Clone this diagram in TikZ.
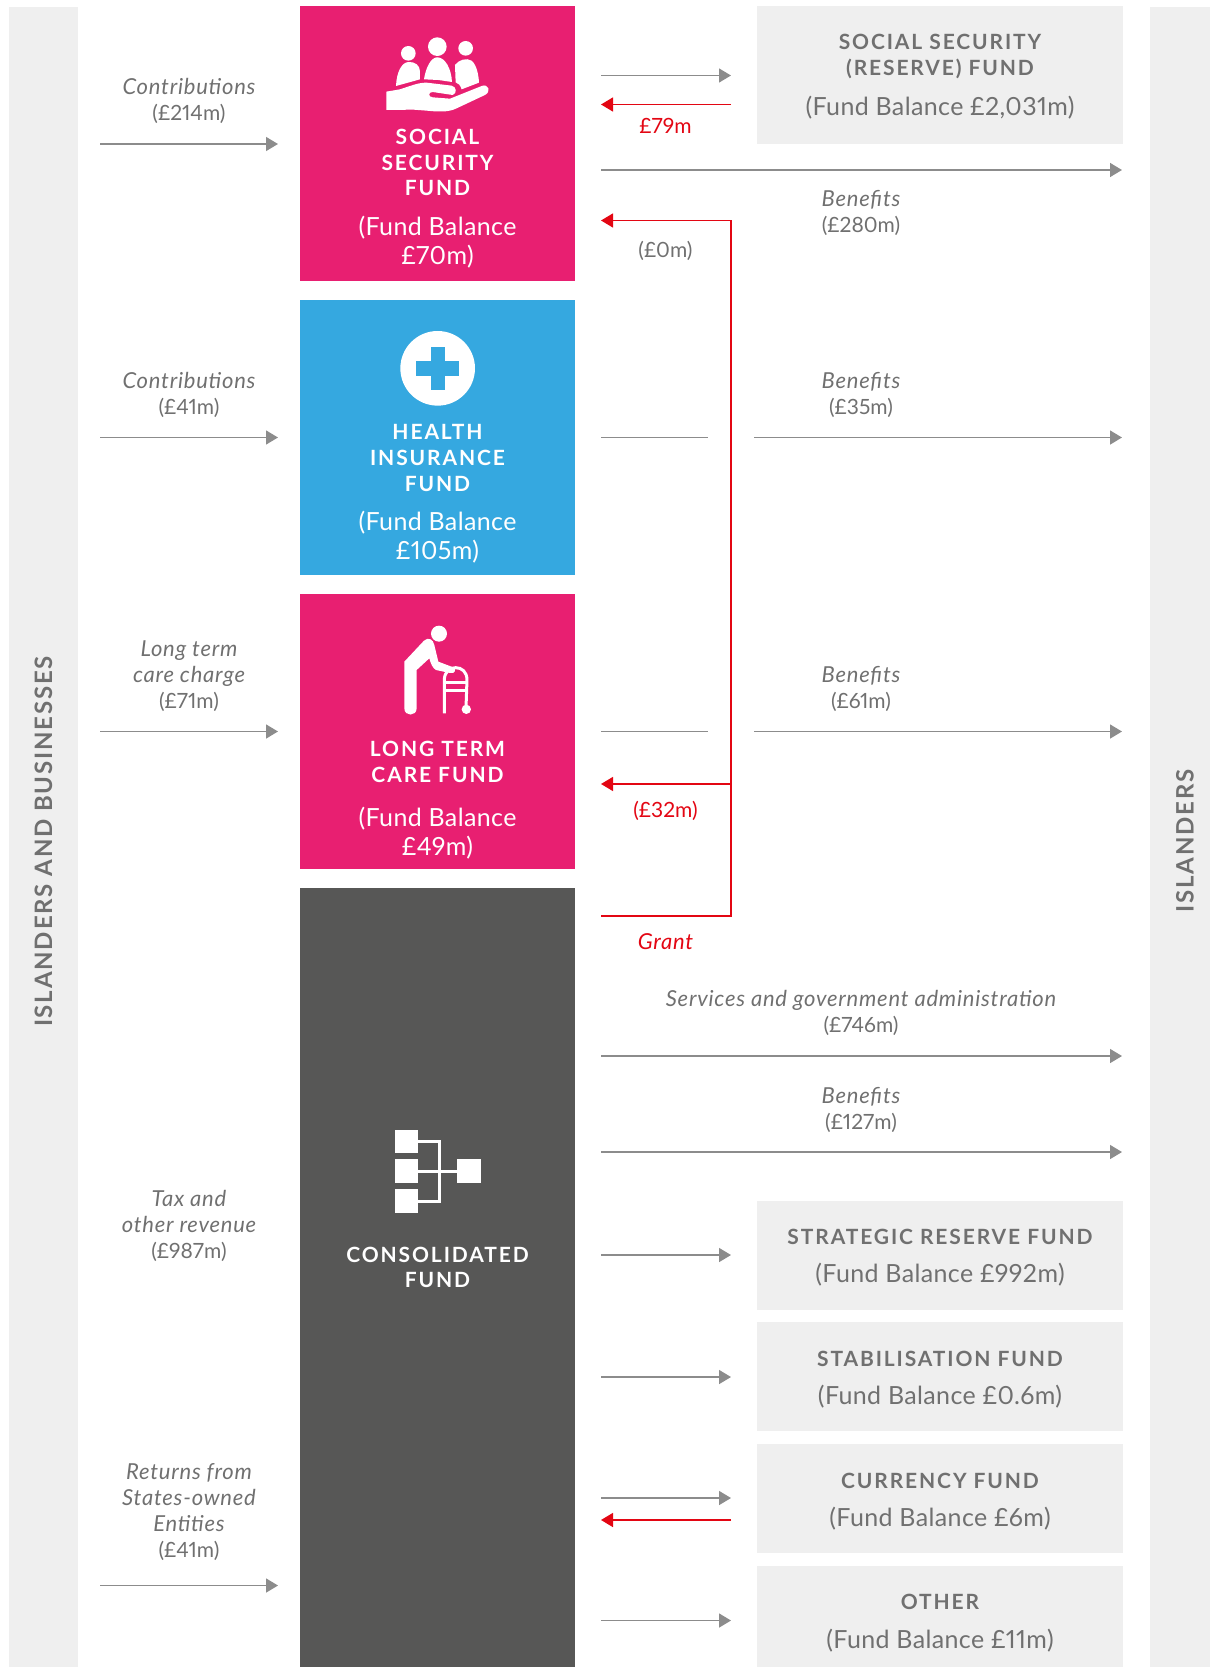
\documentclass[tikz,border=0pt]{standalone}
\usepackage{fontspec}
\setmainfont[Numbers=Proportional]{Lato}
\newfontfamily\spacedfont[LetterSpace=9]{Lato}
\newfontfamily\sidefont[LetterSpace=7.5]{Lato}
\newfontfamily\balfont[LetterSpace=1.5,Numbers=Proportional]{Lato}
\newfontfamily\flowfont[LetterSpace=3.5]{Lato}
\newcommand{\flowit}[1]{{\fontsize{22}{26}\flowfont\itshape #1}}
\usetikzlibrary{arrows.meta}
\definecolor{pinkfund}{HTML}{E81F71}
\definecolor{bluefund}{HTML}{35A8E0}
\definecolor{darkfund}{HTML}{575756}
\definecolor{panelgrey}{HTML}{EFEFEF}
\definecolor{textgrey}{HTML}{707070}
\definecolor{flowgrey}{HTML}{8C8C8C}
\definecolor{grantred}{HTML}{E30613}
\begin{document}
\begin{tikzpicture}[x=1pt,y=-1pt,
  panel/.style={anchor=north west,inner sep=0,outer sep=0,fill=panelgrey,minimum width=#1},
  fundbox/.style={anchor=north west,inner sep=0,outer sep=0,minimum width=275pt},
  flow/.style={draw=flowgrey,line width=1.5pt,-{Triangle[length=12pt,width=14pt]}},
  flowline/.style={draw=flowgrey,line width=1.5pt},
  grant/.style={draw=grantred,line width=1.5pt},
  grantflow/.style={grant,-{Triangle[length=12pt,width=14pt]}},
  fundtitle/.style={align=center,inner sep=0,text=white,font=\fontsize{21}{25.7}\spacedfont\bfseries},
  fundbal/.style={align=center,inner sep=0,text=white,font=\fontsize{25}{29}\balfont},
  paneltitle/.style={align=center,inner sep=0,text=textgrey,font=\fontsize{21}{26}\spacedfont\bfseries},
  panelbal/.style={align=center,inner sep=0,text=textgrey,font=\fontsize{25}{26}\balfont},
  flowtext/.style={align=center,inner sep=0,text=textgrey,font=\fontsize{21}{26}\selectfont},
  sidetext/.style={rotate=90,inner sep=0,text=textgrey,font=\fontsize{24}{26}\sidefont\bfseries}]
\useasboundingbox (0,0) rectangle (1210,1667);
\node[panel=69pt,minimum height=1660pt] (leftside) at (9,7) {};
\node[panel=60pt,minimum height=1660pt] (rightside) at (1150,7) {};
\node[sidetext] (leftsidetext) at (43.5,841.5) {ISLANDERS AND BUSINESSES};
\node[sidetext] (rightsidetext) at (1185,841) {ISLANDERS};
\node[fundbox,fill=pinkfund,minimum height=275pt] (ssf) at (300,6) {};
\node[fundbox,fill=bluefund,minimum height=275pt] (hif) at (300,300) {};
\node[fundbox,fill=pinkfund,minimum height=275pt] (ltc) at (300,594) {};
\node[fundbox,fill=darkfund,minimum height=779pt] (cf) at (300,888) {};
\node[fundtitle] (ssftitle) at (437.5,162.5) {SOCIAL\\SECURITY\\FUND};
\node[fundbal] (ssfbal) at (437.5,242) {(Fund Balance\\£70m)};
\node[fundtitle] (hiftitle) at (437.5,458) {HEALTH\\INSURANCE\\FUND};
\node[fundbal] (hifbal) at (437.5,537) {(Fund Balance\\£105m)};
\node[fundtitle] (ltctitle) at (437.5,762) {LONG TERM\\CARE FUND};
\node[fundbal] (ltcbal) at (437.5,833) {(Fund Balance\\£49m)};
\node[fundtitle] (cftitle) at (437.5,1267.5) {CONSOLIDATED\\FUND};
\node[panel=366pt,minimum height=138pt] (ssr) at (757,6) {};
\node[panel=366pt,minimum height=109pt] (srf) at (757,1201) {};
\node[panel=366pt,minimum height=109pt] (stf) at (757,1322) {};
\node[panel=366pt,minimum height=109pt] (cuf) at (757,1444) {};
\node[panel=366pt,minimum height=101pt] (oth) at (757,1566) {};
\node[paneltitle] (ssrtitle) at (940,56.5) {SOCIAL SECURITY\\(RESERVE) FUND};
\node[panelbal] (ssrbal) at (940,107.5) {(Fund Balance £2,031m)};
\node[paneltitle] (srftitle) at (940,1236.5) {STRATEGIC RESERVE FUND};
\node[panelbal] (srfbal) at (940,1275) {(Fund Balance £992m)};
\node[paneltitle] (stftitle) at (940,1358.5) {STABILISATION FUND};
\node[panelbal] (stfbal) at (940,1397) {(Fund Balance £0.6m)};
\node[paneltitle] (cuftitle) at (940,1480.5) {CURRENCY FUND};
\node[panelbal] (cufbal) at (940,1518.5) {(Fund Balance £6m)};
\node[paneltitle] (othtitle) at (940,1601.5) {OTHER};
\node[panelbal] (othbal) at (940,1640.5) {(Fund Balance £11m)};
\node[flowtext] (conssf) at (189,101) {\flowit{Contributions}\\(£214m)};
\node[flowtext] (conhif) at (189,395) {\flowit{Contributions}\\(£41m)};
\node[flowtext] (charge) at (189,676) {\flowit{Long term}\\\flowit{care charge}\\(£71m)};
\node[flowtext] (tax) at (189,1226) {\flowit{Tax and}\\\flowit{other revenue}\\(£987m)};
\node[flowtext] (returns) at (189,1512) {\flowit{Returns from}\\\flowit{States-owned}\\\flowit{Entities}\\(£41m)};
\node[flowtext] (benssf) at (861,213) {\flowit{Benefits}\\(£280m)};
\node[flowtext] (benhif) at (861,395) {\flowit{Benefits}\\(£35m)};
\node[flowtext] (benltc) at (861,689) {\flowit{Benefits}\\(£61m)};
\node[flowtext] (services) at (861,1013) {\flowit{Services and government administration}\\(£746m)};
\node[flowtext] (bencf) at (861,1110) {\flowit{Benefits}\\(£127m)};
\node[flowtext,text=grantred] (lab79) at (665.5,125.5) {£79m};
\node[flowtext] (lab0) at (665.5,251) {(£0m)};
\node[flowtext,text=grantred] (lab32) at (665.5,811) {(£32m)};
\node[flowtext,text=grantred] (labgrant) at (665.5,942) {\flowit{Grant}};
\foreach \n/\y in {ssf/144,hif/437.5,ltc/731.5,cf/1585.5} {
  \coordinate (from\n) at (100,\y);
  \coordinate (to\n) at (278,\y);
  \draw[flow] (from\n) -- (to\n);
}
\foreach \n/\y in {ssr/75.5,srf/1255,stf/1377,cuf/1498,oth/1620.5} {
  \coordinate (out\n) at (601,\y);
  \coordinate (in\n) at (731,\y);
  \draw[flow] (out\n) -- (in\n);
}
\foreach \n/\y in {ssb/170,svc/1056,cfb/1152} {
  \coordinate (out\n) at (601,\y);
  \coordinate (end\n) at (1122,\y);
  \draw[flow] (out\n) -- (end\n);
}
\foreach \n/\y in {hib/437.5,ltb/731.5} {
  \coordinate (out\n) at (601,\y);
  \coordinate (gapa\n) at (708,\y);
  \coordinate (gapb\n) at (754,\y);
  \coordinate (end\n) at (1122,\y);
  \draw[flowline] (out\n) -- (gapa\n);
  \draw[flow] (gapb\n) -- (end\n);
}
\foreach \n/\y in {ssr/104.5,cuf/1520} {
  \coordinate (back\n) at (731,\y);
  \coordinate (ret\n) at (601,\y);
  \draw[grantflow] (back\n) -- (ret\n);
}
\coordinate (grantout) at (601,916);
\coordinate (grantcorner) at (731,916);
\coordinate (granttop) at (731,220.5);
\coordinate (grantssf) at (601,220.5);
\coordinate (grantmid) at (731,784);
\coordinate (grantltc) at (601,784);
\draw[grantflow] (grantout) -- (grantcorner) -- (granttop) -- (grantssf);
\draw[grantflow] (grantmid) -- (grantltc);
\begin{scope}[shift={(280,0)},x=.3333pt,y=-.3333pt,fill=white]
\fill (385,160) circle (22);
\fill (472,140) circle (28);
\fill (557,145) circle (22);
\fill (348,258) .. controls (350,215) and (365,188) .. (385,186) .. controls (405,185) and (420,195) .. (420,215) -- (420,238) -- (395,245) -- cycle;
\fill (432,238) .. controls (437,205) and (452,172) .. (472,172) .. controls (495,172) and (514,205) .. (516,246) -- (475,240) -- cycle;
\fill (525,195) .. controls (535,180) and (560,172) .. (575,182) .. controls (590,195) and (596,225) .. (597,248) -- (545,268) .. controls (541,255) and (535,250) .. (527,247) -- cycle;
\fill (319,275) -- (360,268) .. controls (400,255) and (415,248) .. (440,248) -- (515,257) .. controls (530,260) and (532,280) .. (518,285) -- (458,276) .. controls (444,276) and (444,291) .. (458,292) -- (510,296) -- (605,258) .. controls (625,250) and (635,275) .. (615,285) -- (530,325) .. controls (505,338) and (470,335) .. (440,332) -- (400,329) -- (319,330) -- cycle;
\end{scope}
\begin{scope}[shift={(300,300)},x=.3333pt,y=-.3333pt]
\fill[white] (413,205) circle (112);
\fill[bluefund] (392,141) rectangle (435,270);
\fill[bluefund] (349,184) rectangle (477,227);
\end{scope}
\begin{scope}[shift={(300,600)},x=.3333pt,y=-.3333pt,fill=white]
\fill (417,101) circle (24);
\fill (313,185) -- (372,122) .. controls (385,110) and (400,118) .. (403,135) -- (415,185) -- (460,202) .. controls (470,207) and (466,222) .. (450,219) -- (408,210) .. controls (398,205) and (392,190) .. (388,175) -- (350,210) -- (350,325) .. controls (350,350) and (313,350) .. (313,325) -- cycle;
\draw[white,line width=3pt] (433,340) -- (433,240) .. controls (433,215) and (450,203) .. (467,203) .. controls (485,203) and (501,215) .. (501,240) -- (498,325);
\draw[white,line width=3pt] (433,247) -- (500,247);
\draw[white,line width=3pt] (433,273) -- (500,273);
\fill (499,328) circle (14);
\end{scope}
\begin{scope}[shift={(340,1090)},x=.3333pt,y=-.3333pt,fill=white]
\foreach \y in {120,208,298} {
  \fill (165,\y) rectangle ++(70,70);
}
\fill (352,208) rectangle ++(70,70);
\draw[white,line width=3pt] (235,155) -- (298,155) -- (298,333) -- (235,333);
\draw[white,line width=3pt] (235,243) -- (352,243);
\end{scope}
\end{tikzpicture}
\end{document}
